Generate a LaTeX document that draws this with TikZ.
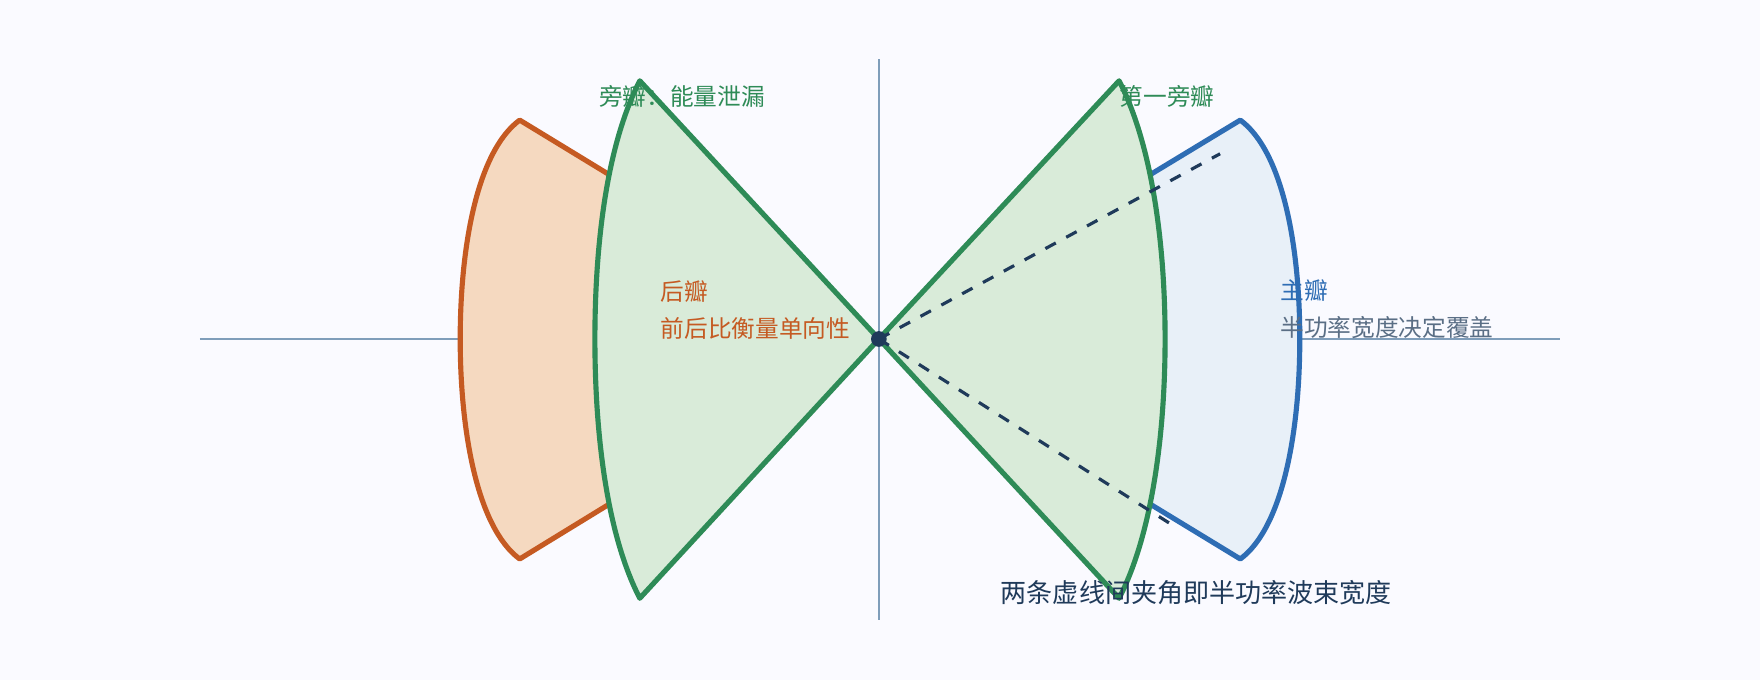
\documentclass[tikz,border=0pt]{standalone}
\usepackage{fontspec}
\setmainfont{Noto Sans CJK SC}
\usetikzlibrary{positioning}
\definecolor{axiscol}{HTML}{7F9DBA}
\definecolor{backcol}{HTML}{C55A22}
\definecolor{backfill}{HTML}{F5D9C0}
\definecolor{maincol}{HTML}{2E6DB4}
\definecolor{mainfill}{HTML}{E8F0F8}
\definecolor{sidecol}{HTML}{2E8B57}
\definecolor{sidefill}{HTML}{D9EBD9}
\definecolor{navy}{HTML}{1F3A5A}
\definecolor{greytext}{HTML}{5A6E85}
\tikzset{
  lobe/.style={line width=1.3pt, line join=round},
  lbl/.style={anchor=west, inner sep=0pt, font=\fontsize{6pt}{7pt}\selectfont}
}
\begin{document}
\begin{tikzpicture}[x=0.01cm, y=-0.01cm]
        \fill[white!98!blue] (0,0) rectangle (1568,606);
        \coordinate (O) at (783, 302);

        % axes
        \coordinate (H1) at (178, 302);
        \coordinate (H2) at (1390, 302);
        \coordinate (V1) at (783, 53);
        \coordinate (V2) at (783, 552);
        \draw [axiscol, line width=0.5pt] (H1)--(H2);
        \draw [axiscol, line width=0.5pt] (V1)--(V2);

        % back lobe
        \coordinate (B1) at (463, 107);
        \coordinate (B2) at (463, 498);
        \draw [lobe, backcol, fill=backfill] (O)--(B1)
            .. controls (425, 135) and (410, 220) .. (410, 302)
            .. controls (410, 384) and (425, 470) .. (B2)--cycle;

        % main lobe
        \coordinate (M1) at (1105, 107);
        \coordinate (M2) at (1105, 498);
        \draw [lobe, maincol, fill=mainfill] (O)--(M1)
            .. controls (1143, 135) and (1158, 220) .. (1158, 302)
            .. controls (1158, 384) and (1143, 470) .. (M2)--cycle;

        % side lobes
        \coordinate (S1) at (570, 72);
        \coordinate (S2) at (570, 533);
        \draw [lobe, sidecol, fill=sidefill] (O)--(S1)
            .. controls (540, 130) and (530, 220) .. (530, 302)
            .. controls (530, 384) and (540, 475) .. (S2)--cycle;
        \coordinate (S3) at (997, 72);
        \coordinate (S4) at (997, 533);
        \draw [lobe, sidecol, fill=sidefill] (O)--(S3)
            .. controls (1027, 130) and (1038, 220) .. (1038, 302)
            .. controls (1038, 384) and (1027, 475) .. (S4)--cycle;

        % half power lines
        \coordinate (D1) at (1087, 137);
        \coordinate (D2) at (1048, 470);
        \draw [navy, thick, dashed] (O)--(D1);
        \draw [navy, thick, dashed] (O)--(D2);
        \fill [navy] (O) circle (7);

        \node[lbl, text=sidecol] (side) at (533, 86) {旁瓣：能量泄漏};
        \node[lbl, text=sidecol] (first) at (997, 86) {第一旁瓣};
        \node[lbl, text=backcol] (back) at (588, 260) {后瓣};
        \node[lbl, text=backcol] (ratio) at (588, 293) {前后比衡量单向性};
        \node[lbl, text=maincol] (main) at (1140, 259) {主瓣};
        \node[lbl, text=greytext] (cover) at (1140, 292) {半功率宽度决定覆盖};
        \node[lbl, text=navy, font=\fontsize{6.6pt}{8pt}\selectfont] (note) at (891, 528) {两条虚线间夹角即半功率波束宽度};
\end{tikzpicture}
\end{document}
